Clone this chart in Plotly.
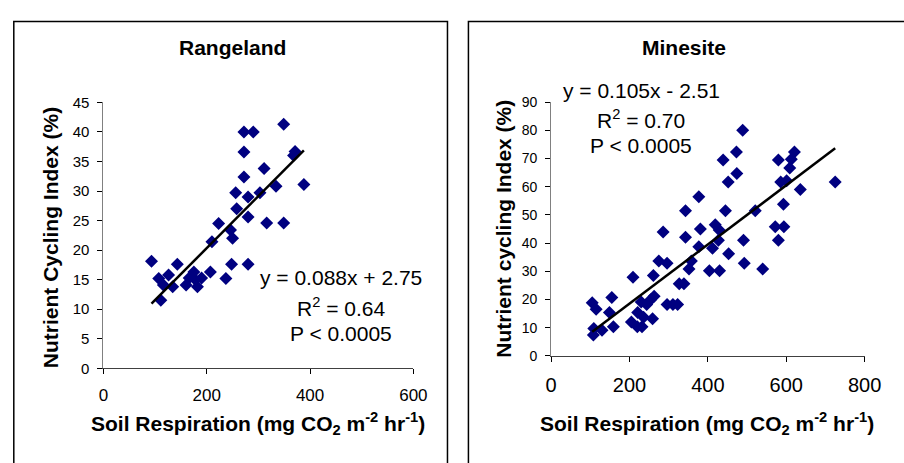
import plotly.graph_objects as go

# ---- data ----
range_x = [93, 107, 111, 116, 126, 134, 143, 160, 166, 175, 178, 182, 190, 207, 210, 223, 237, 246, 248, 250,
           256, 258, 272, 272, 272, 280, 280, 280, 290, 303, 311, 316, 334, 349, 349, 368, 371, 388]
range_y = [18.1, 15.2, 11.5, 14.1, 15.8, 13.8, 17.6, 14.1, 15.3, 16.3, 15.0, 13.8, 15.3, 16.3, 21.4, 24.5, 15.2, 23.4, 17.6, 22.0,
           29.7, 27.0, 32.4, 36.6, 40.0, 29.0, 25.6, 17.6, 40.0, 29.7, 33.8, 24.6, 30.8, 41.3, 24.6, 36.0, 36.7, 31.1]
range_slope, range_icpt = 0.088, 2.75

mine_x = [105, 115, 109, 108, 130, 155, 149, 159, 209, 205, 220, 232, 221, 230, 236, 244, 254, 263, 259, 261,
          275, 286, 296, 296, 311, 323, 327, 339, 343, 343, 352, 358, 377, 377, 381, 404, 412, 419, 427, 430,
          429, 439, 445, 452, 453, 473, 474, 489, 491, 493, 521, 540, 572, 580, 580, 586, 593, 594, 601, 609,
          613, 621, 636, 725]
mine_y = [18.8, 16.5, 9.7, 7.4, 9.1, 20.7, 15.4, 10.3, 27.9, 12.0, 10.3, 10.3, 15.4, 19.1, 13.7, 18.2, 19.9, 21.1, 13.1, 28.5,
          33.6, 43.9, 32.8, 18.2, 18.2, 18.2, 25.6, 25.6, 51.5, 42.1, 30.8, 33.6, 56.4, 38.7, 45.0, 30.2, 38.2, 46.5, 41.0, 30.2,
          44.6, 69.5, 51.5, 61.7, 36.2, 72.3, 64.7, 80.0, 41.0, 32.8, 51.5, 30.8, 45.8, 41.0, 69.5, 61.7, 53.8, 45.8, 62.1, 66.6,
          69.7, 72.3, 59.0, 61.7]
mine_slope, mine_icpt = 0.105, -2.51

left_title = "Rangeland"
right_title = "Minesite"
x_title = "<b>Soil Respiration (mg CO<sub>2</sub> m<sup>-2</sup> hr<sup>-1</sup>)</b>"
left_y_title = "<b>Nutrient Cycling Index (%)</b>"
right_y_title = "<b>Nutrient cycling Index (%)</b>"
left_eq = ["y = 0.088x + 2.75", "R<sup>2</sup> = 0.64", "P < 0.0005"]
right_eq = ["y = 0.105x - 2.51", "R<sup>2</sup> = 0.70", "P < 0.0005"]

W, H = 904, 463
FONT = "Liberation Sans, Arial, sans-serif"
NAVY = "#000080"


def px(x):
    return x / W


def py(y):
    return 1 - y / H


fig = go.Figure()

fig.add_trace(go.Scatter(x=range_x, y=range_y, mode="markers", xaxis="x", yaxis="y",
                         marker=dict(symbol="diamond", size=10, color=NAVY), showlegend=False))
lx = [min(range_x), max(range_x)]
fig.add_trace(go.Scatter(x=lx, y=[range_slope * v + range_icpt for v in lx], mode="lines", xaxis="x", yaxis="y",
                         line=dict(color="black", width=2.5), showlegend=False))

fig.add_trace(go.Scatter(x=mine_x, y=mine_y, mode="markers", xaxis="x2", yaxis="y2",
                         marker=dict(symbol="diamond", size=10, color=NAVY), showlegend=False))
rx = [min(mine_x), max(mine_x)]
fig.add_trace(go.Scatter(x=rx, y=[mine_slope * v + mine_icpt for v in rx], mode="lines", xaxis="x2", yaxis="y2",
                         line=dict(color="black", width=2.5), showlegend=False))

common_x = dict(showgrid=False, zeroline=False, showline=True, linecolor="#404040", linewidth=1,
                ticks="outside", ticklen=5, tickcolor="black", tickwidth=1, ticklabelstandoff=6)
common_y = dict(showgrid=False, zeroline=False, showline=True, linecolor="#808080", linewidth=1,
                ticks="outside", ticklen=5, tickcolor="black", tickwidth=1, ticklabelstandoff=5)

fig.update_layout(
    width=W, height=H, margin=dict(l=0, r=0, t=0, b=0),
    paper_bgcolor="white", plot_bgcolor="white",
    font=dict(family=FONT, color="black"),
    xaxis=dict(domain=[px(100), px(418)], range=[0, 600], tickvals=[0, 200, 400, 600],
               tickfont=dict(size=17, family=FONT), anchor="y", **common_x),
    yaxis=dict(domain=[py(373), py(97)], range=[0, 45], tickvals=list(range(0, 46, 5)),
               tickfont=dict(size=15, family=FONT), anchor="x", **common_y),
    xaxis2=dict(domain=[px(559.3), px(881)], range=[0, 800], tickvals=[0, 200, 400, 600, 800],
                tickfont=dict(size=20, family=FONT), anchor="y2", **common_x),
    yaxis2=dict(domain=[py(360), py(96.7)], range=[0, 90], tickvals=list(range(0, 91, 10)),
                tickfont=dict(size=14, family=FONT), anchor="x2", **common_y),
)

# panel borders
fig.add_shape(type="rect", xref="paper", yref="paper", x0=px(8), x1=px(453), y0=py(480), y1=py(13),
              line=dict(color="black", width=1.5), fillcolor="rgba(0,0,0,0)", layer="below")
fig.add_shape(type="rect", xref="paper", yref="paper", x0=px(474.5), x1=px(930), y0=py(480), y1=py(13),
              line=dict(color="black", width=1.5), fillcolor="rgba(0,0,0,0)", layer="below")


def ann(text, x, y, size, angle=0):
    fig.add_annotation(text=text, x=px(x), y=py(y), xref="paper", yref="paper", showarrow=False,
                       xanchor="center", yanchor="middle", textangle=angle,
                       font=dict(size=size, family=FONT, color="black"))


ann("<b>" + left_title + "</b>", 232, 40, 21)
ann("<b>" + right_title + "</b>", 695.5, 40, 21)
ann(x_title, 259, 430, 21)
ann(x_title, 719.5, 430, 21)
ann(left_y_title, 45, 237, 21, -90)
ann(right_y_title, 511, 228, 21, -90)

for t, yy in zip(left_eq, [279, 309, 337]):
    ann(t, 344, yy, 21)
for t, yy in zip(right_eq, [85, 114, 142]):
    ann(t, 652, yy, 21)

fig.write_html("out.html")
